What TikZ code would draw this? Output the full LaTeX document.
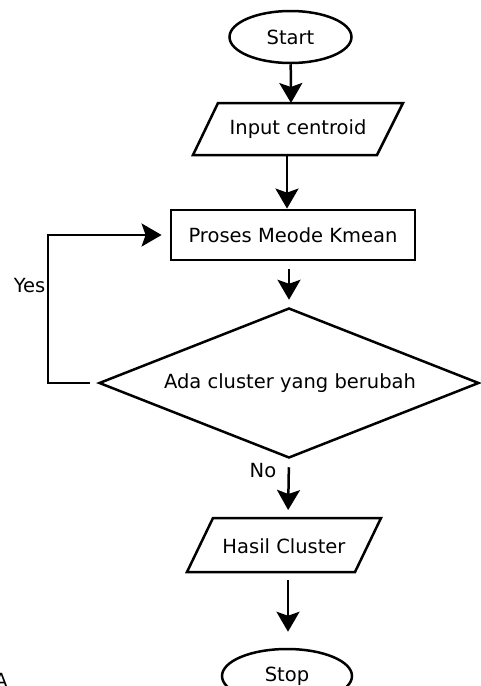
\documentclass[tikz,border=0pt]{standalone}
\usepackage{fontspec}
\setmainfont{DejaVu Sans}
\usetikzlibrary{shapes.geometric,arrows.meta}
\begin{document}
\begin{tikzpicture}[x=1pt,y=-1pt, line width=2.5pt,
  every node/.style={font=\fontsize{19.5}{21}\selectfont, inner sep=0pt},
  term/.style={draw, ellipse, minimum width=122pt, minimum height=52pt},
  proc/.style={draw, rectangle, line width=2.8pt, minimum width=244pt, minimum height=50pt},
  dec/.style={draw, diamond, minimum width=380pt, minimum height=150pt},
  io/.style={draw, line join=miter},
  arr/.style={-{Stealth[length=20pt,width=23pt,inset=4pt]}}]
\useasboundingbox (0,0) rectangle (480,686);
% shapes
\node[term] (start) at (290.5,37) {Start};
\draw[io] (218,103) -- (403,103) -- (377,155) -- (193,155) -- cycle;
\node (input) at (298,129) {Input centroid};
\coordinate (inT) at (291,103);
\coordinate (inB) at (287,155);
\node[proc] (proc) at (293,235) {Proses Meode Kmean};
\node[dec] (dec) at (289,383) {};
\node (dectext) at (290,383) {Ada cluster yang berubah};
\draw[io] (213,518) -- (381,518) -- (355,572) -- (187,572) -- cycle;
\node (hasil) at (284,546) {Hasil Cluster};
\coordinate (haT) at (288,518);
\coordinate (haB) at (288,572);
\node[term, minimum width=130pt, minimum height=54pt] (stop) at (287,676) {Stop};
\coordinate (loopX) at (48,0);
% labels
\node[anchor=east] (yes) at (46.5,286) {Yes};
\node (no) at (263,471) {No};
\node[anchor=base] (cut) at (1,687) {A};
% connectors
\draw[arr] (start) -- (inT);
\draw[arr] (inB) -- (proc.north -| inB);
\draw[arr, shorten <=8pt, shorten >=7pt] (proc.south -| dec.north) -- (dec.north);
\draw[arr, shorten <=8pt, shorten >=8pt] (dec.south) -- (haT);
\draw[arr, shorten <=8pt, shorten >=16pt] (haB) -- (stop.north -| haB);
\draw[arr, shorten <=8pt, shorten >=8pt] (dec.west) -- (dec.west -| loopX) |- (proc.west);
\end{tikzpicture}
\end{document}
